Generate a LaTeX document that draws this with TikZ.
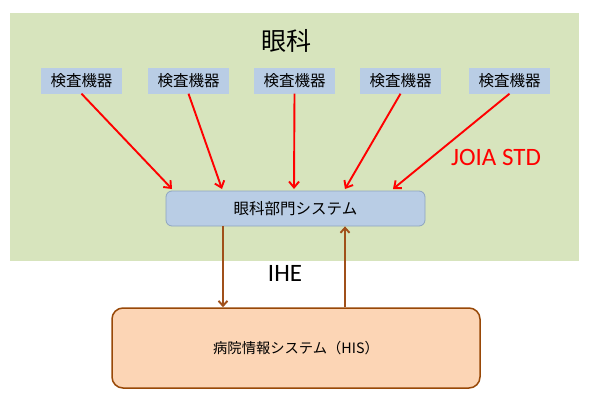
\documentclass[tikz,border=0pt]{standalone}
\usepackage{fontspec}
\setmainfont{Carlito}
\newfontfamily\jp{Noto Sans CJK JP}
\usetikzlibrary{arrows.meta}
\definecolor{bggreen}{HTML}{D7E4BD}
\definecolor{devblue}{HTML}{B9CDE5}
\definecolor{deptborder}{HTML}{8EA5C0}
\definecolor{hisfill}{HTML}{FCD5B5}
\definecolor{hisborder}{HTML}{984807}
\definecolor{arrowbrown}{HTML}{A0501A}
\tikzset{
  devbox/.style={fill=devblue, draw=none, minimum width=81pt, minimum height=26pt, inner sep=0pt, font=\jp\fontsize{15.5}{17}\selectfont},
  deptbox/.style={fill=devblue, draw=deptborder, line width=0.8pt, rounded corners=6pt, minimum width=259pt, minimum height=35pt, inner sep=0pt, font=\jp\fontsize{15.5}{17}\selectfont},
  hisbox/.style={fill=hisfill, draw=hisborder, line width=1.5pt, rounded corners=11pt, minimum width=368pt, minimum height=80pt, inner sep=0pt, font=\jp\fontsize{14.3}{16}\selectfont},
  redarrow/.style={draw=red, line width=1.9pt, -{Straight Barb[length=6pt,width=10pt]}},
  brownarrow/.style={draw=arrowbrown, line width=1.9pt, -{Straight Barb[length=5pt,width=9pt]}},
}
\begin{document}
\begin{tikzpicture}[x=1pt,y=-1pt]
\useasboundingbox (0,0) rectangle (590,405);
\fill[bggreen] (10,13) rectangle (579,261);
\node[font=\jp\fontsize{25}{28}\selectfont] (title) at (286,41) {眼科};
\node[devbox] (d1) at (81.5,80.5) {検査機器};
\node[devbox] (d2) at (188.5,80.5) {検査機器};
\node[devbox] (d3) at (294.5,80.5) {検査機器};
\node[devbox] (d4) at (400.5,80.5) {検査機器};
\node[devbox] (d5) at (509.5,80.5) {検査機器};
\node[deptbox] (dept) at (295.5,208.5) {眼科部門システム};
\node[hisbox] (his) at (296,348) {病院情報システム（HIS）};
\node[font=\fontsize{25}{28}\selectfont, text=red] (joia) at (496,157) {JOIA STD};
\node[font=\fontsize{25}{28}\selectfont] (ihe) at (285,273) {IHE};
\coordinate (t1) at (172,189);
\coordinate (t2) at (222,189);
\coordinate (t3) at (294,189);
\coordinate (t4) at (345,189);
\coordinate (t5) at (393,189);
\draw[redarrow] (d1.south) -- (t1);
\draw[redarrow] (d2.south) -- (t2);
\draw[redarrow] (d3.south) -- (t3);
\draw[redarrow] (d4.south) -- (t4);
\draw[redarrow] (d5.south) -- (t5);
\draw[brownarrow] (dept.south -| 223,0) -- (his.north -| 223,0);
\draw[brownarrow] (his.north -| 345,0) -- (dept.south -| 345,0);
\end{tikzpicture}
\end{document}
